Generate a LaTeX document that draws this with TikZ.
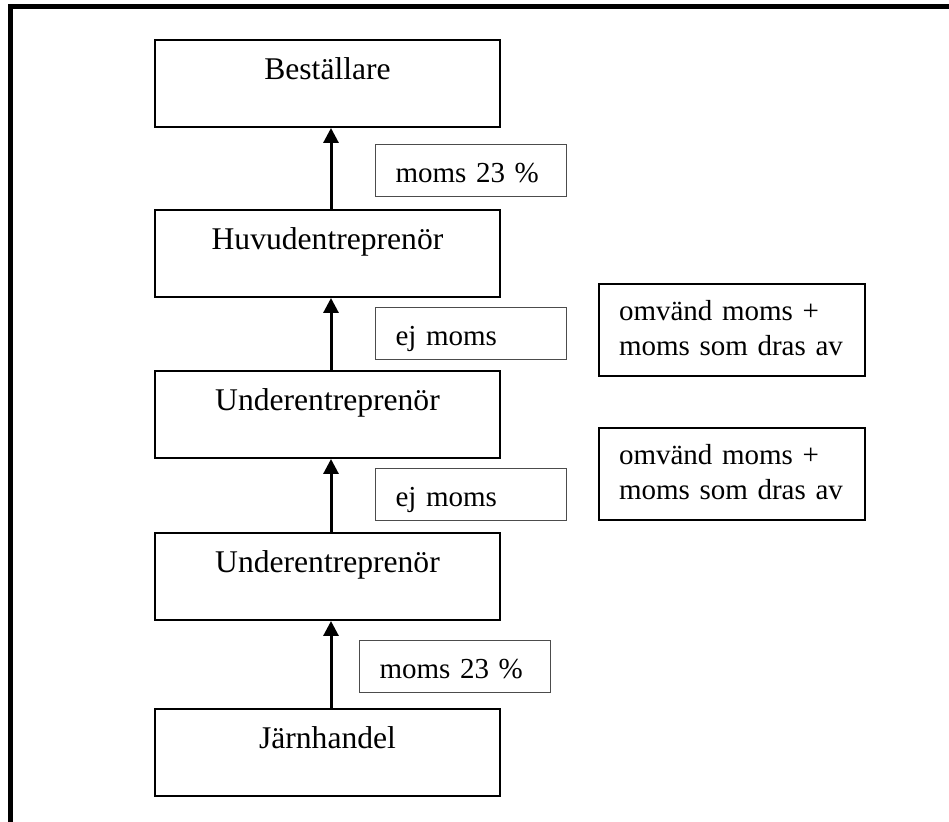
\documentclass[tikz,border=0pt]{standalone}
\usepackage{fontspec}
\setmainfont{Liberation Serif}
\usepackage{tikz}
\usetikzlibrary{arrows.meta}
\tikzset{
  >={Triangle[length=7.5pt,width=7.5pt]},
  bx/.style={rectangle, draw, line width=1pt, minimum width=172.5pt, inner xsep=0pt, inner ysep=0pt, text height=20pt, text depth=23.5pt, anchor=north west, font=\fontsize{15.8}{18}\selectfont},
  lb/.style={rectangle, draw=black!70, line width=0.5pt, text width=75.5pt, align=left, inner xsep=10pt, inner ysep=0pt, text height=19pt, text depth=7pt, anchor=north west, font=\fontsize{14.5}{17.5}\selectfont},
  nt/.style={rectangle, draw, line width=1pt, text width=113pt, align=left, inner xsep=10pt, inner ysep=0pt, text height=18.5pt, text depth=27.5pt, anchor=north west, font=\fontsize{14.5}{17.5}\selectfont},
  ar/.style={->, line width=1.5pt}
}

\begin{document}
\begin{tikzpicture}[x=0.5pt, y=-0.5pt]
  \useasboundingbox (0,0) rectangle (949,822);
  \draw[line width=2.5pt] (10.5,822) |- (949,6.5);

  \node[bx] (bestallare) at (154,39) {Beställare};
  \node[bx] (huvud) at (154,209) {Huvudentreprenör};
  \node[bx] (under1) at (154,370) {Underentreprenör};
  \node[bx] (under2) at (154,532) {Underentreprenör};
  \node[bx] (jarn) at (154,708) {Järnhandel};

  \node[lb] (moms1) at (375,144) {moms 23 \%};
  \node[lb] (ej1) at (375,307) {ej moms};
  \node[lb] (ej2) at (375,468) {ej moms};
  \node[lb] (moms2) at (359,640) {moms 23 \%};

  \node[nt] (omv1) at (598,283) {omvänd moms +\\moms som dras av};
  \node[nt] (omv2) at (598,427) {omvänd moms +\\moms som dras av};

  \draw[ar] ([xshift=1.75pt]huvud.north) -- ([xshift=1.75pt]bestallare.south);
  \draw[ar] ([xshift=1.75pt]under1.north) -- ([xshift=1.75pt]huvud.south);
  \draw[ar] ([xshift=1.75pt]under2.north) -- ([xshift=1.75pt]under1.south);
  \draw[ar] ([xshift=1.75pt]jarn.north) -- ([xshift=1.75pt]under2.south);
\end{tikzpicture}
\end{document}
